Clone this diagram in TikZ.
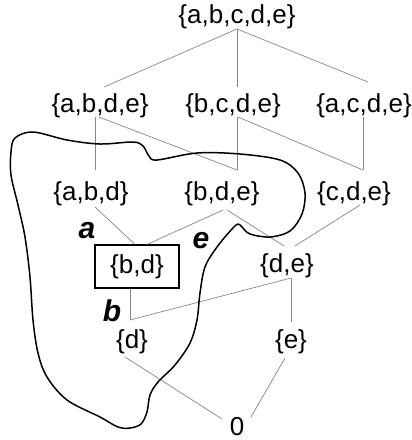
\documentclass[tikz,border=0pt]{standalone}
\usepackage{fontspec}
\setmainfont{Liberation Sans}
\usetikzlibrary{calc}
\begin{document}
\begin{tikzpicture}[x=1pt,y=-1pt,
  lbl/.style={inner sep=0pt,anchor=base,font=\fontsize{26}{26}\selectfont},
  tag/.style={inner sep=0pt,anchor=base,font=\fontsize{30}{30}\selectfont\bfseries\itshape},
  edge/.style={draw={rgb,255:red,135;green,135;blue,135},line width=0.7pt},
  blob/.style={draw=black,line width=1.5pt,line join=round},
  boxed/.style={draw=black,line width=1.1pt,minimum width=84pt,minimum height=43pt,inner sep=0pt,font=\fontsize{26}{26}\selectfont}]
\useasboundingbox (0,0) rectangle (412,440);
\node[lbl] (abcde) at (237,23) {\{a,b,c,d,e\}};
\node[lbl] (abde) at (100,112) {\{a,b,d,e\}};
\node[lbl] (bcde) at (233,112) {\{b,c,d,e\}};
\node[lbl] (acde) at (364,112) {\{a,c,d,e\}};
\node[lbl] (abd) at (91,200) {\{a,b,d\}};
\node[lbl] (bde) at (222,200) {\{b,d,e\}};
\node[lbl] (cde) at (354,200) {\{c,d,e\}};
\node[boxed] (bd) at (137,266.5) {\{b,d\}};
\node[lbl] (de) at (287,272) {\{d,e\}};
\node[lbl] (d) at (132,348) {\{d\}};
\node[lbl] (e) at (291,348) {\{e\}};
\node[lbl] (zero) at (237,435.5) {0};
\node[tag] (ta) at (87,238) {a};
\node[tag] (te) at (201,248) {e};
\node[tag] (tb) at (112,321) {b};
% connectors
\draw[edge] ($(abcde.base)+(0,6)$) -- ($(abde.base)+(4,-25)$);
\draw[edge] ($(abcde.base)+(0,6)$) -- ($(bcde.base)+(4,-25)$);
\draw[edge] ($(abcde.base)+(0,6)$) -- ($(acde.base)+(4,-30)$);
\draw[edge] ($(abde.base)+(-5,5)$) -- ($(abd.base)+(4,-30)$);
\draw[edge] ($(abde.base)+(-1,5)$) -- ($(bde.base)+(15,-30)$);
\draw[edge] ($(bcde.base)+(4,5)$) -- ($(bde.base)+(15,-30)$);
\draw[edge] ($(bcde.base)+(5,5)$) -- ($(cde.base)+(9,-30)$);
\draw[edge] ($(acde.base)+(-1,5)$) -- ($(cde.base)+(9,-30)$);
\draw[edge] ($(abd.base)+(4,7)$) -- ($(bd.north)+(-2,0)$);
\draw[edge] ($(bde.base)+(1,10)$) -- ($(bd.north)+(10,0)$);
\draw[edge] ($(bde.base)+(5,10)$) -- ($(de.base)+(-3,-26)$);
\draw[edge] ($(cde.base)+(6,5)$) -- ($(de.base)+(8,-26)$);
\draw[edge] ($(bd.south)+(-7,0)$) -- ($(d.base)+(-2,-28)$);
\draw[edge] ($(de.base)+(4,6)$) -- ($(d.base)+(-2,-28)$);
\draw[edge] ($(de.base)+(4,6)$) -- ($(e.base)+(0,-26)$);
\draw[edge] ($(d.base)+(-7,9)$) -- ($(zero.base)+(-15,-16.5)$);
\draw[edge] ($(e.base)+(-6,10)$) -- ($(zero.base)+(14,-18.5)$);
% blob
\draw[blob] plot[smooth cycle, tension=0.55] coordinates {
 (15,138) (33,132) (67,140) (100,144) (133,142) (143,146) (149,156) (157,160)
 (197,153) (240,154) (280,160) (298,173) (305,193) (302,214) (290,231) (270,237)
 (250,234) (242,227) (238,224) (232,229) (217,247) (205,267) (200,293) (197,320)
 (190,343) (175,365) (158,382) (150,395) (147,412) (141,424) (130,428) (118,427)
 (100,417) (67,400) (47,377) (38,353) (33,320) (30,277) (25,237) (18,205)
 (11,175) (11,152)};
\end{tikzpicture}
\end{document}
